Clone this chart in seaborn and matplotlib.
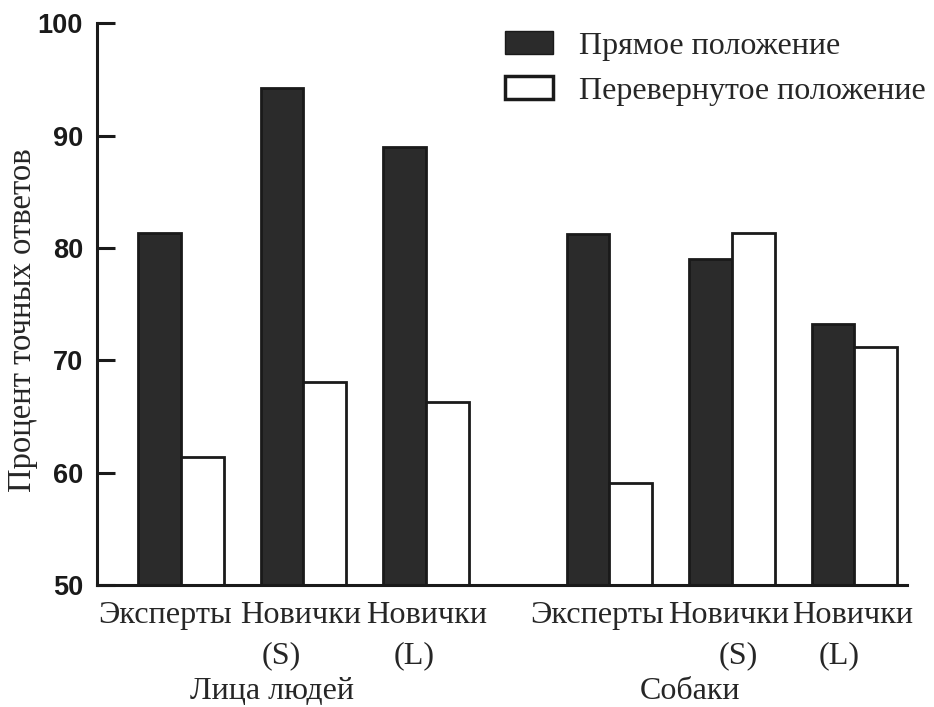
import matplotlib
matplotlib.use("Agg")
import matplotlib.pyplot as plt
import matplotlib.transforms as mtransforms
from matplotlib.patches import Patch
import seaborn as sns
import pandas as pd

# ---- data ----
groups = ["Лица людей", "Собаки"]
subjects = ["Эксперты", "Новички\n(S)", "Новички\n(L)"]
conditions = ["Прямое положение", "Перевернутое положение"]
upright_faces = [81.3, 94.2, 89.0]
inverted_faces = [61.4, 68.1, 66.3]
upright_dogs = [81.2, 79.0, 73.2]
inverted_dogs = [59.1, 81.3, 71.2]
y_ticks = [50, 60, 70, 80, 90, 100]
y_label = "Процент точных ответов"

values = {
    (groups[0], conditions[0]): upright_faces,
    (groups[0], conditions[1]): inverted_faces,
    (groups[1], conditions[0]): upright_dogs,
    (groups[1], conditions[1]): inverted_dogs,
}

group_gap = 0.5
rows = []
for gi, g in enumerate(groups):
    for si, s in enumerate(subjects):
        pos = gi * (len(subjects) + group_gap) + si
        for c in conditions:
            rows.append({"group": g, "subject": s, "pos": pos,
                         "cond": c, "value": values[(g, c)][si]})
df = pd.DataFrame(rows)

sns.set_style("white")
plt.rcParams["font.family"] = ["Liberation Serif", "DejaVu Serif"]

dark = "#2b2b2b"
edge = "#1a1a1a"

fig = plt.figure(figsize=(9.34, 7.07), dpi=100)
ax = fig.add_axes([97 / 934, 1 - 585 / 707, (907 - 97) / 934, (585 - 23.3) / 707])

sns.barplot(data=df, x="pos", y="value", hue="cond", hue_order=conditions,
            native_scale=True, width=0.7, dodge=True,
            palette={conditions[0]: dark, conditions[1]: "white"},
            edgecolor=edge, linewidth=2.0, legend=False, ax=ax, errorbar=None)

# axes
ax.set_ylim(50, 100)
first = df["pos"].min()
last = df["pos"].max()
ax.set_xlim(first - 0.686, last + 0.43)
ax.set_yticks(y_ticks)
ax.set_yticklabels([str(t) for t in y_ticks], fontfamily="Liberation Sans",
                   fontweight="bold", fontsize=19.5)
ticks_pos = sorted(df["pos"].unique())
ax.set_xticks(ticks_pos)
ax.set_xticklabels([])
ax.tick_params(axis="y", direction="in", length=13, width=2.2, pad=10,
               colors=edge, left=True)
ax.tick_params(axis="x", length=0)
for sp in ["top", "right"]:
    ax.spines[sp].set_visible(False)
for sp in ["left", "bottom"]:
    ax.spines[sp].set_linewidth(2.2)
    ax.spines[sp].set_color(edge)
ax.set_xlabel("")
ax.set_ylabel("")
ax.grid(False)

trans = mtransforms.blended_transform_factory(ax.transData, ax.transAxes)


def shifted(dx_px):
    return trans + mtransforms.ScaledTranslation(dx_px / 100, 0, fig.dpi_scale_trans)


# category labels under each pair; line-wise horizontal nudges (px) as in the original
line1_nudge = [-16, -3, 1, -12, -3, -2]
line2_nudge = [0, -22, -12, 0, 6, -15]
line_y = [-0.028, -0.0997]
cat_labels = [s for g in groups for s in subjects]
for i, (p, lab) in enumerate(zip(ticks_pos, cat_labels)):
    parts = lab.split("\n")
    nudges = [line1_nudge[i], line2_nudge[i]]
    for li, part in enumerate(parts):
        ax.text(p, line_y[li], part, transform=shifted(nudges[li]),
                ha="center", va="top", fontsize=23.2, clip_on=False)

# group labels
group_label_shift = [-0.258, -0.34]
for gi, g in enumerate(groups):
    center = gi * (len(subjects) + group_gap) + (len(subjects) - 1) / 2
    ax.text(center + group_label_shift[gi], -0.203, g, transform=trans,
            ha="center", va="baseline", fontsize=23)

fig.text(23 / 934, 1 - 320 / 707, y_label, rotation=90, ha="center",
         va="center", fontsize=23.5)

handles = [Patch(facecolor=dark, edgecolor=edge, linewidth=1.0, label=conditions[0]),
           Patch(facecolor="white", edgecolor=edge, linewidth=2.5, label=conditions[1])]
ax.legend(handles=handles, loc="center left",
          bbox_to_anchor=(505 / 934, 1 - 68.5 / 707),
          bbox_transform=fig.transFigure, frameon=False, fontsize=23,
          handlelength=1.5, handleheight=0.7, handletextpad=0.82,
          labelspacing=0.5, borderpad=0, borderaxespad=0)

fig.savefig("out.png", dpi=100)
